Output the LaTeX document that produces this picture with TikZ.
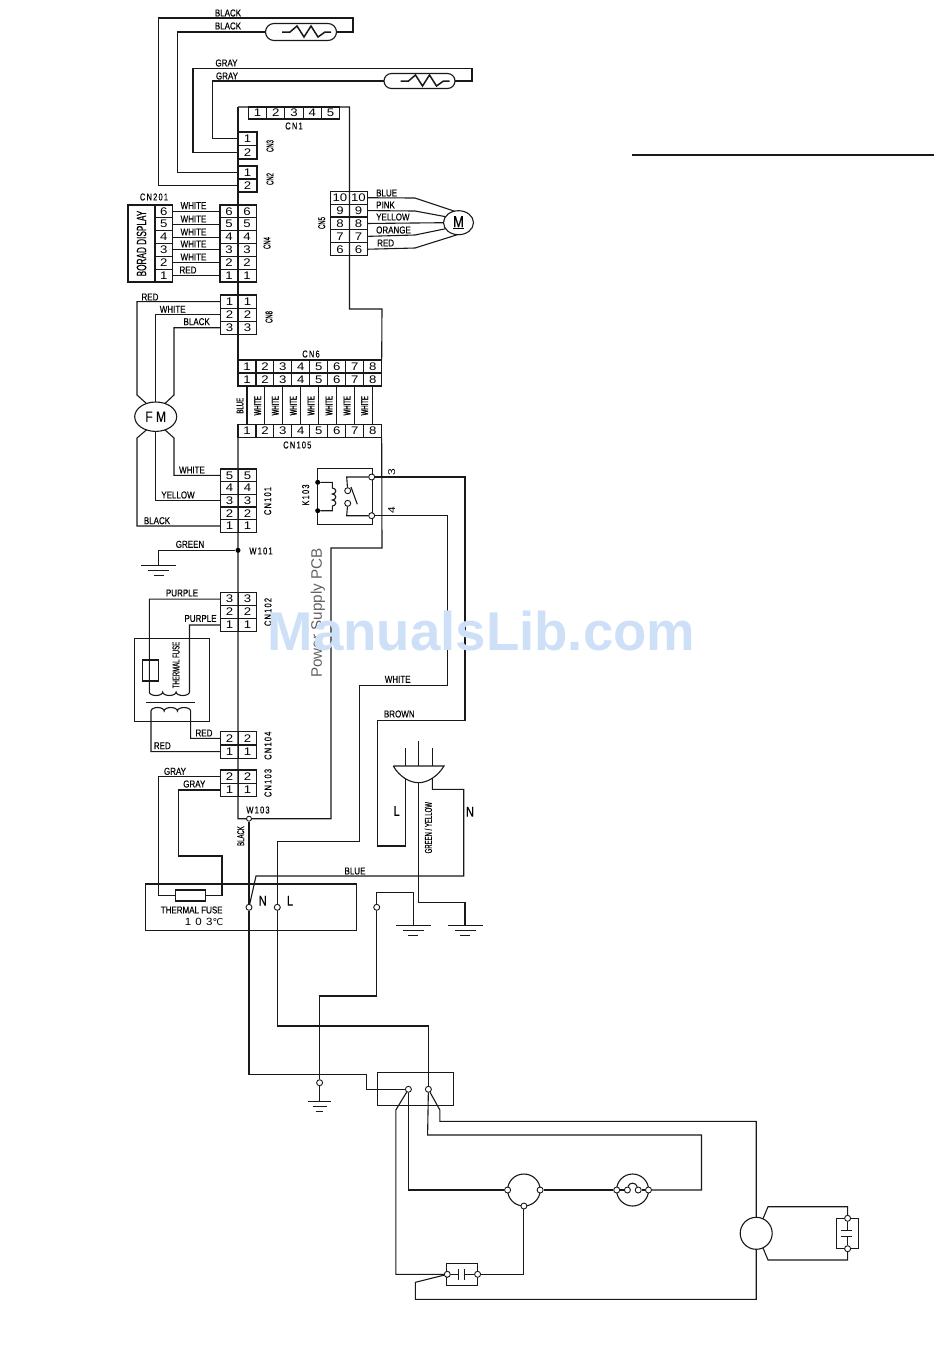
\documentclass[tikz,border=0pt]{standalone}
\usepackage{fontspec}
\setmainfont{Liberation Sans}
\newfontfamily\narrowfam{Liberation Sans}[FakeStretch=0.8,FakeBold=0.25]
\newfontfamily\slimfam{Liberation Sans}[FakeStretch=0.6,FakeBold=0.25]
\newfontfamily\heavyfam{Liberation Sans}[FakeStretch=0.6,FakeBold=1.2]
\newfontfamily\spacefam{Liberation Sans}[FakeStretch=0.75,LetterSpace=12,FakeBold=0.25]
\newfontfamily\widefam{Liberation Sans}[FakeStretch=1.2]
\newfontfamily\tempfam{Liberation Sans}[FakeStretch=1.1,LetterSpace=40]
\newfontfamily\degfam{DejaVu Sans}
\usetikzlibrary{shapes.geometric, shapes.misc, backgrounds}

\newcommand{\pincol}[6]{%
  \foreach \d [count=\i from 0] in {#6}
    \node[pin, minimum width=#4pt, minimum height=#5pt] (#1-\d) at ({#2+#4/2},{#3+(\i+.5)*#5}) {\d};}
\newcommand{\pinrow}[6]{%
  \foreach \d [count=\i from 0] in {#6}
    \node[pin, minimum width=#4pt, minimum height=#5pt] (#1-\d) at ({#2+(\i+.5)*#4},{#3+#5/2}) {\d};}

\begin{document}
\begin{tikzpicture}[x=1pt, y=-1pt]
            \tikzstyle{wire}=[line width=1.1pt, draw=black!90, line join=miter]
            \tikzstyle{pin}=[draw=black!90, line width=1.1pt, inner sep=0pt, outer sep=0pt, font=\widefam\fontsize{11}{11}\selectfont]
            \tikzstyle{lbl}=[inner sep=0pt, font=\narrowfam\fontsize{10}{10}\selectfont]
            \tikzstyle{tag}=[inner sep=0pt, rotate=90, font=\slimfam\fontsize{10}{10}\selectfont]
            \tikzstyle{spaced}=[inner sep=0pt, font=\spacefam\fontsize{10}{10}\selectfont]
            \tikzstyle{vspaced}=[inner sep=0pt, rotate=90, font=\spacefam\fontsize{10}{10}\selectfont]
            \tikzstyle{term}=[circle, draw=black!90, line width=0.9pt, fill=white, inner sep=0pt, minimum size=6pt]
            \tikzstyle{jdot}=[circle, fill=black, inner sep=0pt, minimum size=5pt]
            \tikzstyle{box}=[draw=black!90, line width=1.1pt, inner sep=0pt, outer sep=0pt]
            \tikzstyle{round}=[ellipse, draw=black!90, line width=1.1pt, inner sep=0pt, outer sep=0pt]
            \tikzstyle{bigltr}=[inner sep=0pt, font=\narrowfam\fontsize{14}{14}\selectfont]

            \useasboundingbox (0,0) rectangle (950,1369);

            \node[rounded rectangle, box, minimum width=71pt, minimum height=17pt] (thermA) at (301,32) {};
            \node[rounded rectangle, box, minimum width=71pt, minimum height=15pt] (thermB) at (419.5,81) {};

            \pinrow{cnone}{248.3}{107}{18.3}{12}{1,2,3,4,5}
            \pincol{cnthree}{238}{132}{19}{13.5}{1,2}
            \pincol{cntwo}{238}{166}{19}{13}{1,2}
            \pincol{cnfourL}{220}{205}{18.1}{12.83}{6,5,4,3,2,1}
            \pincol{cnfourR}{238.1}{205}{18.1}{12.83}{6,5,4,3,2,1}
            \pincol{cndisp}{155}{205}{17.7}{12.83}{6,5,4,3,2,1}
            \pincol{cnfiveL}{330.7}{191.3}{18.5}{12.87}{10,9,8,7,6}
            \pincol{cnfiveR}{349.2}{191.3}{18.5}{12.87}{10,9,8,7,6}
            \pincol{cneightL}{220.5}{295}{18}{13.1}{1,2,3}
            \pincol{cneightR}{238.5}{295}{18}{13.1}{1,2,3}
            \pinrow{cnsixA}{238}{360}{17.96}{13}{1,2,3,4,5,6,7,8}
            \pinrow{cnsixB}{238}{373}{17.96}{13}{1,2,3,4,5,6,7,8}
            \pinrow{cnpow}{238}{424.3}{17.96}{13.4}{1,2,3,4,5,6,7,8}
            \pincol{cnfanL}{220.5}{469}{18}{12.67}{5,4,3,2,1}
            \pincol{cnfanR}{238.5}{469}{18}{12.67}{5,4,3,2,1}
            \pincol{cnxfL}{220.5}{592.7}{18}{12.9}{3,2,1}
            \pincol{cnxfR}{238.5}{592.7}{18}{12.9}{3,2,1}
            \pincol{cnsecL}{220.5}{731.7}{18}{13.3}{2,1}
            \pincol{cnsecR}{238.5}{731.7}{18}{13.3}{2,1}
            \pincol{cnfuseL}{220.5}{770}{18}{13.3}{2,1}
            \pincol{cnfuseR}{238.5}{770}{18}{13.3}{2,1}

            \node[box, rotate=90, minimum width=77pt, minimum height=27pt, font=\slimfam\fontsize{13.7}{13.7}\selectfont] (boardDisp) at (141.5,243.5) {BORAD DISPLAY};
            \node[round, minimum width=30pt, minimum height=24pt, font=\narrowfam\fontsize{16}{16}\selectfont] (fanM) at (458.5,222.7) {\underline{M}};
            \node[round, minimum width=42pt, minimum height=29.4pt, font=\narrowfam\fontsize{15}{15}\selectfont] (fanF) at (155.7,416.7) {F M};
            \node[box, minimum width=54.3pt, minimum height=55.7pt] (relayBox) at (344.9,496.2) {};
            \node[term] (relayThree) at (371.7,477) {};
            \node[term] (relayFour) at (371.7,515.7) {};
            \node[term] (contactA) at (347.7,490.7) {};
            \node[term] (contactB) at (347.7,503.3) {};
            \node[jdot] (coilA) at (317.7,482.3) {};
            \node[jdot] (coilB) at (317.7,510.7) {};
            \node[jdot] (wOne) at (238,550.3) {};
            \node[term, minimum size=5pt] (wThree) at (249,818.7) {};
            \node[box, minimum width=75.3pt, minimum height=82.7pt] (xfBox) at (171.7,679.7) {};
            \node[box, minimum width=16pt, minimum height=21pt] (xfFuse) at (150.3,670.5) {};
            \node[box, minimum width=210.6pt, minimum height=46.7pt] (fuseBox) at (251,907.3) {};
            \node[box, minimum width=30.7pt, minimum height=11pt] (fuseLink) at (190.4,895.5) {};
            \node[term] (termN) at (249,907.3) {};
            \node[term] (termL) at (277.3,907.3) {};
            \node[term] (termE) at (376.7,907.3) {};
            \node[term] (termG) at (319.6,1082.7) {};
            \node[box, minimum width=76.3pt, minimum height=33pt] (blockBox) at (415.4,1088.8) {};
            \node[term] (blockN) at (408.4,1089.3) {};
            \node[term] (blockL) at (428.4,1089.3) {};
            \node[round, minimum width=32.6pt, minimum height=32pt] (loadA) at (523.9,1190) {};
            \node[term] (loadAl) at (507.6,1190) {};
            \node[term] (loadAr) at (540.1,1190) {};
            \node[term] (loadAb) at (523.9,1206) {};
            \node[round, minimum width=32pt, minimum height=32pt] (loadB) at (632.6,1190) {};
            \node[term] (loadBl) at (616.7,1190) {};
            \node[term] (loadBr) at (648.5,1190) {};
            \node[term] (loadBi) at (627.4,1190) {};
            \node[term] (loadBj) at (638.2,1190) {};
            \node[round, minimum width=32pt, minimum height=32pt] (motorC) at (756.2,1233.3) {};
            \node[box, minimum width=31pt, minimum height=22pt] (capBox) at (462,1274.3) {};
            \node[term] (capL) at (447.3,1274.3) {};
            \node[term] (capR) at (477.6,1274.3) {};
            \node[box, minimum width=21.8pt, minimum height=30.4pt] (runBox) at (847.8,1233.5) {};
            \node[term] (runT) at (847.6,1218.3) {};
            \node[term] (runB) at (847.6,1248.7) {};

            \coordinate (gndA) at (158.7,565.7);
            \coordinate (gndB) at (413.3,925.7);
            \coordinate (gndC) at (465,925.7);
            \coordinate (gndD) at (319.6,1101.7);
            \coordinate (ruleA) at (632,155);
            \coordinate (ruleB) at (934,155);
            \coordinate (plugL) at (393.3,766);
            \coordinate (plugR) at (444,766);
            \coordinate (plugB) at (418.5,782.7);
            \coordinate (plugM) at (405.3,778);
            \coordinate (plugN) at (432.3,778);
            \coordinate (pronA) at (405.3,747.7);
            \coordinate (pronB) at (418.5,741);
            \coordinate (pronC) at (432.3,747.7);

            \begin{scope}[on background layer]
            \draw[wire] (cntwo-2.west) -| (158.7,18) -- (353,18) |- (thermA.east);
            \draw[wire] (cntwo-1.west) -| (177.5,32) -- (thermA.west);
            \draw[wire] (cnthree-2.west) -| (193,68.5) -- (472,68.5) |- (thermB.east);
            \draw[wire] (cnthree-1.west) -| (212.5,81) -- (thermB.west);

            \foreach \t in {thermA,thermB}
              \draw[wire, line width=1.5pt] ([xshift=-19pt]\t.center) -- ++(8,0) -- ++(7,-6) -- ++(7,11) -- ++(7,-11) -- ++(7,11) -- ++(7,-5) -- ++(6,0);

            \draw[wire] (238,107) -- (349.5,107) -- (349.5,309) -- (382,309) -- (cnsixA-8.north east);
            \draw[wire] (238,107) -- (cnsixA-1.north west);
            \draw[wire] (cnpow-1.south west) -- (238,818.7) -- (331,818.7) -- (331,548) -- (382,548) -- (cnpow-8.south east);

            \foreach \n in {6,5,4,3,2,1}
              \path (cndisp-\n.east) edge[wire] (cnfourL-\n.west);

            \draw[wire] (cnfiveR-10.east) -- (415,198) -- (fanM.110);
            \draw[wire] (cnfiveR-9.east) -- (415,211) -- (fanM.155);
            \path (cnfiveR-8.east) edge[wire] (fanM.west);
            \draw[wire] (cnfiveR-7.east) -- (415,235) -- (fanM.205);
            \draw[wire] (cnfiveR-6.east) -- (415,248) -- (fanM.265);

            \draw[wire] (cneightL-1.west) -| (137,395) -- (fanF.125);
            \draw[wire] (cneightL-2.west) -| (fanF.north);
            \draw[wire] (cneightL-3.west) -| (174,395) -- (fanF.55);
            \draw[wire] (cnfanL-5.west) -| (174,438) -- (fanF.305);
            \draw[wire] (cnfanL-3.west) -| (fanF.south);
            \draw[wire] (cnfanL-1.west) -| (137,438) -- (fanF.235);

            \foreach \n in {1,2,3,4,5,6,7,8}
              \path (cnsixB-\n.south) edge[wire] (cnpow-\n.north);

            \draw[wire] (coilA) -- (332.3,482.3) -- (332.3,488) arc[start angle=90,end angle=-90,x radius=3.5pt,y radius=3pt] arc[start angle=90,end angle=-90,x radius=3.5pt,y radius=3pt] arc[start angle=90,end angle=-90,x radius=3.5pt,y radius=3pt] -- (332.3,510.7) -- (coilB);
            \draw[wire] (relayThree) -- (346.7,477) -- (contactA);
            \draw[wire] (relayFour) -- (346.7,515.7) -- (contactB);
            \draw[wire] (351,487) -- (357.3,504.3);

            \draw[wire] (relayThree) -- (465,477) -- (465,720.7) -- (377.7,720.7) -- (377.7,846) -- (405.3,846) -- (plugM);
            \draw[wire] (relayFour) -- (447.3,515.7) -- (447.3,685.3) -- (359.3,685.3) -- (359.3,841.7) -- (277.3,841.7) -- (termL);

            \draw[wire] (wOne) -| (gndA);

            \draw[wire] (cnxfL-3.west) -| (149.3,692) arc[start angle=180,end angle=360,x radius=6.7pt,y radius=3.5pt] arc[start angle=180,end angle=360,x radius=6.7pt,y radius=3.5pt] arc[start angle=180,end angle=360,x radius=6.7pt,y radius=3.5pt] -- (189.5,625) -- (cnxfL-1.west);
            \draw[wire] (cnsecL-1.west) -| (151,711) arc[start angle=180,end angle=0,x radius=6.6pt,y radius=3.5pt] arc[start angle=180,end angle=0,x radius=6.6pt,y radius=3.5pt] arc[start angle=180,end angle=0,x radius=6.6pt,y radius=3.5pt] -- (190.6,738.3) -- (cnsecL-2.west);
            \path (146,702.7) edge[wire] (195,702.7);

            \draw[wire] (cnfuseL-2.west) -| (158.7,895.5) -- (fuseLink.west);
            \draw[wire] (fuseLink.east) -- (222,895.5) -- (222,856) -- (178.7,856) |- (cnfuseL-1.west);

            \draw[wire] (wThree) -- (termN);
            \draw[wire] (termN) -- (256,876) -- (463.7,876) -- (463.7,789.3) -- (432.3,789.3) -- (plugN);
            \draw[wire] (plugB) -- (418.5,902.7) -- (465,902.7) -- (gndC);
            \draw[wire] (termE) |- (413.3,892.7) -- (gndB);
            \draw[wire] (plugL) -- (plugR) .. controls (438,776) and (428,782.7) .. (plugB) .. controls (409,782.7) and (399,776) .. (plugL);
            \path (pronA) edge[wire] (plugL -| pronA);
            \path (pronB) edge[wire] (plugL -| pronB);
            \path (pronC) edge[wire] (plugL -| pronC);

            \draw[wire] (termN) -- (249,1074.3) -- (366.6,1074.3) -- (366.6,1089.3) -- (blockN);
            \draw[wire] (termE) -- (376.7,996) -- (319.6,996) -- (termG);
            \draw[wire] (termG) -- (gndD);
            \draw[wire] (termL) -- (277.3,1026) -- (428.4,1026) -- (blockL);

            \draw[wire] (blockN) -- (395.8,1110) -- (395.8,1274.3) -- (capL);
            \draw[wire] (blockN) -- (408.4,1190) -- (loadAl);
            \draw[wire] (blockL) -- (427.6,1135) -- (701.5,1135) -- (701.5,1190) -- (loadBr);
            \draw[wire] (blockL) -- (439.9,1110) -- (439.9,1121.3) -- (756.2,1121.3) -- (motorC.north);
            \draw[wire] (motorC.south) -- (756.2,1299.3) -- (415.4,1299.3) -- (415.4,1282.3) -- (capL);
            \path (loadAr) edge[wire] (loadBl);
            \path (loadBl) edge[wire] (loadBi);
            \path (loadBj) edge[wire] (loadBr);
            \draw[wire] (loadBi) .. controls (629,1182) and (636,1182) .. (loadBj);
            \draw[wire] (capR) -- (523.9,1274.3) -- (loadAb);

            \path (capL) edge[wire] (458.4,1274.3);
            \path (capR) edge[wire] (464.3,1274.3);
            \path (458.4,1269) edge[wire] (458.4,1279.5);
            \path (464.3,1269) edge[wire] (464.3,1279.5);

            \draw[wire] (motorC.65) -- (768,1206.7) -- (847.6,1206.7) -- (runT);
            \draw[wire] (motorC.295) -- (768,1260) -- (847.6,1260) -- (runB);
            \path (runT) edge[wire] (847.6,1230.3);
            \path (runB) edge[wire] (847.6,1236.7);
            \path (841.3,1230.3) edge[wire] (852.4,1230.3);
            \path (841.3,1236.7) edge[wire] (852.4,1236.7);

            \foreach \g/\s in {gndA/1,gndB/1,gndC/1,gndD/0.66} {
              \draw[wire] ([xshift=-17.5*\s pt]\g) -- ([xshift=17.5*\s pt]\g);
              \draw[wire] ([xshift=-10.5*\s pt, yshift=-5pt]\g) -- ([xshift=10.5*\s pt, yshift=-5pt]\g);
              \draw[wire] ([xshift=-5*\s pt, yshift=-10pt]\g) -- ([xshift=5*\s pt, yshift=-10pt]\g);
            }

            \path (ruleA) edge[wire] (ruleB);
            \end{scope}

            \node[lbl] (lBlackA) at (228,13) {BLACK};
            \node[lbl] (lBlackB) at (228,26) {BLACK};
            \node[lbl] (lGrayA) at (226.5,63) {GRAY};
            \node[lbl] (lGrayB) at (227,76) {GRAY};
            \node[spaced] (lCnOne) at (294,126) {CN1};
            \node[tag] (lCnThree) at (270,146) {CN3};
            \node[tag] (lCnTwo) at (270,179) {CN2};
            \node[tag] (lCnFour) at (267,243) {CN4};
            \node[tag] (lCnFive) at (321.7,223) {CN5};
            \node[spaced] (lCnDisp) at (154,197) {CN201};

            \foreach \y [count=\i] in {205.6,219,232,244,257}
              \node[lbl] (lDisp\i) at (193.5,\y) {WHITE};
            \node[lbl] (lDispRed) at (188,270) {RED};

            \node[lbl, anchor=west] (lBlue) at (376,193) {BLUE};
            \node[lbl, anchor=west] (lPink) at (376,205) {PINK};
            \node[lbl, anchor=west] (lYellow) at (376,217) {YELLOW};
            \node[lbl, anchor=west] (lOrange) at (376,230) {ORANGE};
            \node[lbl, anchor=west] (lRed) at (377,243) {RED};

            \node[lbl] (lFanRed) at (150,297) {RED};
            \node[lbl] (lFanWhite) at (172.7,309.3) {WHITE};
            \node[lbl] (lFanBlack) at (196.7,321.7) {BLACK};
            \node[tag] (lCnEight) at (269,317) {CN8};
            \node[spaced] (lCnSix) at (311,354) {CN6};
            \node[spaced] (lCnPow) at (297.3,445) {CN105};
            \node[tag] (lWireBlue) at (240,405.7) {BLUE};
            \foreach \x [count=\i] in {257.7,275.3,293.3,311,329,347,364.7}
              \node[tag, font=\heavyfam\fontsize{10}{10}\selectfont] (lPow\i) at (\x,405.7) {WHITE};

            \node[lbl] (lOutWhite) at (192,470) {WHITE};
            \node[lbl] (lOutYellow) at (178,495) {YELLOW};
            \node[lbl] (lOutBlack) at (157,520.7) {BLACK};
            \node[vspaced] (lCnFan) at (267.7,501) {CN101};
            \node[tag, font=\widefam\fontsize{10}{10}\selectfont] (lThree) at (391.7,471.7) {3};
            \node[tag, font=\widefam\fontsize{10}{10}\selectfont] (lFour) at (391.7,510) {4};
            \node[vspaced] (lRelay) at (305.7,495) {K103};
            \node[lbl] (lGreen) at (190,544.3) {GREEN};
            \node[spaced] (lWOne) at (261,551) {W101};

            \node[lbl] (lPurpleA) at (182,593) {PURPLE};
            \node[lbl] (lPurpleB) at (200.5,618.5) {PURPLE};
            \node[vspaced] (lCnXf) at (268,612) {CN102};
            \node[tag] (lXfFuse) at (176,665) {THERMAL FUSE};
            \node[lbl] (lSecRedA) at (204,733) {RED};
            \node[lbl] (lSecRedB) at (162.3,745.7) {RED};
            \node[vspaced] (lCnSec) at (268,745.7) {CN104};
            \node[vspaced] (lCnFuse) at (268,783) {CN103};
            \node[lbl] (lGrayC) at (175,771.3) {GRAY};
            \node[lbl] (lGrayD) at (194.3,784) {GRAY};
            \node[spaced] (lWThree) at (258,810) {W103};
            \node[tag] (lWireBlack) at (240.7,836) {BLACK};
            \node[lbl] (lWhiteMain) at (397.7,679.3) {WHITE};
            \node[lbl] (lBrownMain) at (399.3,714) {BROWN};
            \node[lbl] (lBlueMain) at (355,871) {BLUE};
            \node[tag] (lEarth) at (428.3,827.7) {GREEN / YELLOW};
            \node[bigltr] (lPlugL) at (396.7,811) {L};
            \node[bigltr] (lPlugN) at (470,811.7) {N};
            \node[bigltr] (lTermN) at (262.7,900.7) {N};
            \node[bigltr] (lTermL) at (290,900.7) {L};
            \node[lbl] (lFuse) at (191.7,910) {THERMAL FUSE};
            \node[inner sep=0pt, font=\tempfam\fontsize{10.5}{10.5}\selectfont] (lFuseT) at (204,922) {103{\degfam\fontsize{9.5}{9.5}\selectfont ℃}};

            \node[inner sep=0pt, rotate=90, text=black!62, font=\fontsize{15.2}{15.2}\selectfont] (lBoard) at (318,613) {Power Supply PCB};
            \node[inner sep=0pt, text={rgb,255:red,206;green,224;blue,248}, font=\bfseries\fontsize{54.6}{54.6}\selectfont] (lMark) at (481.5,631) {ManualsLib.com};

          \end{tikzpicture}
\end{document}
